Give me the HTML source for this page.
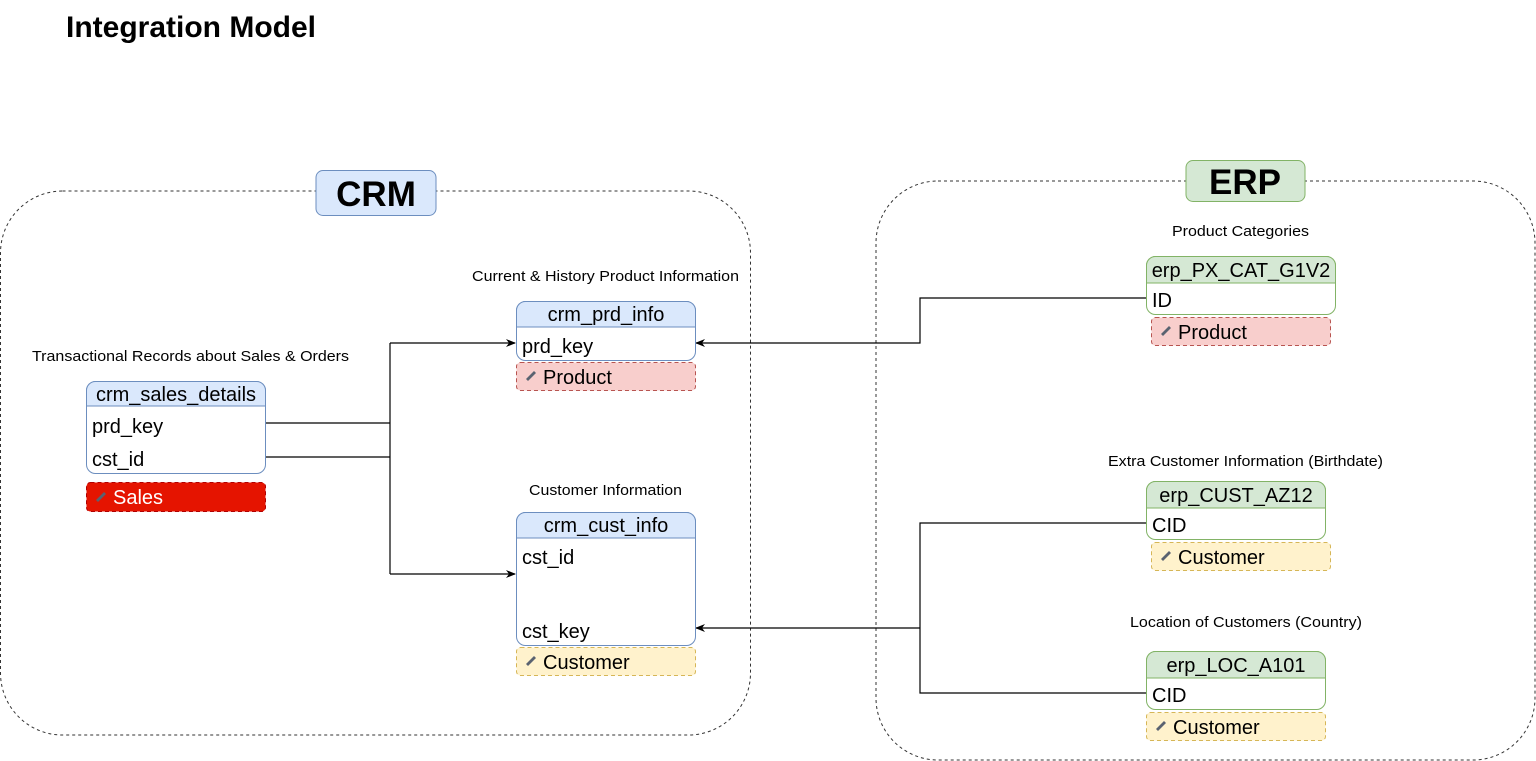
<!DOCTYPE html>
<html><head><meta charset="utf-8"><style>
html,body{margin:0;padding:0;background:#fff;width:1536px;height:761px;overflow:hidden}
svg{display:block;font-family:"Liberation Sans",Arial,sans-serif}
</style></head><body>
<svg width="1536" height="761" viewBox="0 0 1536 761" xmlns="http://www.w3.org/2000/svg">
<defs>
<marker id="ar" viewBox="0 0 10 10" refX="9" refY="5" markerWidth="10" markerHeight="10" orient="auto" markerUnits="userSpaceOnUse"><path d="M0,1 L10,5 L0,9 L3,5 Z" fill="#000"/></marker>
<g id="pen"><path d="M0,10 L8,2 L10,4 L2,12 Z" fill="#5a6270"/></g>
</defs>
<text x="66" y="37" font-size="30" font-weight="bold" textLength="250" lengthAdjust="spacingAndGlyphs">Integration Model</text>

<!-- containers -->
<rect x="0.5" y="191" width="750" height="544" rx="62" fill="none" stroke="#333" stroke-dasharray="3,3"/>
<rect x="876" y="181" width="659" height="579" rx="62" fill="none" stroke="#333" stroke-dasharray="3,3"/>
<rect x="316" y="170.5" width="120" height="45" rx="7" fill="#dae8fc" stroke="#6c8ebf"/>
<text x="376" y="206" font-size="35" font-weight="bold" text-anchor="middle">CRM</text>
<rect x="1186" y="160.5" width="119" height="41" rx="7" fill="#d5e8d4" stroke="#82b366"/>
<text x="1245" y="194" font-size="35" font-weight="bold" text-anchor="middle">ERP</text>

<g font-size="15">
<text x="32" y="361" textLength="317" lengthAdjust="spacingAndGlyphs">Transactional Records about Sales &amp; Orders</text>
<text x="472" y="281" textLength="267" lengthAdjust="spacingAndGlyphs">Current &amp; History Product Information</text>
<text x="529" y="495" textLength="153" lengthAdjust="spacingAndGlyphs">Customer Information</text>
<text x="1172" y="236" textLength="137" lengthAdjust="spacingAndGlyphs">Product Categories</text>
<text x="1108" y="466" textLength="275" lengthAdjust="spacingAndGlyphs">Extra Customer Information (Birthdate)</text>
<text x="1130" y="627" textLength="232" lengthAdjust="spacingAndGlyphs">Location of Customers (Country)</text>
</g>

<!-- connectors -->
<g stroke="#000" stroke-width="1.2" fill="none">
<path d="M265,423 H390 M265,457 H390 M390,343 V574"/>
<path d="M390,343 H515" marker-end="url(#ar)"/>
<path d="M390,574 H515" marker-end="url(#ar)"/>
<path d="M1146,298 H920 V343 H696" marker-end="url(#ar)"/>
<path d="M1146,523 H920 V693 H1146"/>
<path d="M920,628 H696" marker-end="url(#ar)"/>
</g>

<g font-size="20">
<!-- crm_sales_details -->
<rect x="86.5" y="381.5" width="179" height="92" rx="9" fill="#fff" stroke="#6c8ebf"/>
<path d="M86.5,406 V390.5 a9,9 0 0 1 9,-9 H256.5 a9,9 0 0 1 9,9 V406 Z" fill="#dae8fc" stroke="#6c8ebf"/>
<text x="176" y="401" text-anchor="middle">crm_sales_details</text>
<text x="92" y="433">prd_key</text>
<text x="92" y="466">cst_id</text>
<rect x="86.5" y="482.5" width="179" height="29" rx="4" fill="#e51400" stroke="#b20000" stroke-dasharray="4,3"/>
<use href="#pen" x="96" y="490"/>
<text x="113" y="504" fill="#fff">Sales</text>

<!-- crm_prd_info -->
<rect x="516.5" y="301.5" width="179" height="59" rx="9" fill="#fff" stroke="#6c8ebf"/>
<path d="M516.5,327 V310.5 a9,9 0 0 1 9,-9 H686.5 a9,9 0 0 1 9,9 V327 Z" fill="#dae8fc" stroke="#6c8ebf"/>
<text x="606" y="321" text-anchor="middle">crm_prd_info</text>
<text x="522" y="353">prd_key</text>
<rect x="516.5" y="362.5" width="179" height="28" rx="4" fill="#f8cecc" stroke="#b85450" stroke-dasharray="4,3"/>
<use href="#pen" x="526" y="369"/>
<text x="543" y="384">Product</text>

<!-- crm_cust_info -->
<rect x="516.5" y="512.5" width="179" height="133" rx="9" fill="#fff" stroke="#6c8ebf"/>
<path d="M516.5,538 V521.5 a9,9 0 0 1 9,-9 H686.5 a9,9 0 0 1 9,9 V538 Z" fill="#dae8fc" stroke="#6c8ebf"/>
<text x="606" y="532" text-anchor="middle">crm_cust_info</text>
<text x="522" y="564">cst_id</text>
<text x="522" y="638">cst_key</text>
<rect x="516.5" y="647.5" width="179" height="28" rx="4" fill="#fff2cc" stroke="#d6b656" stroke-dasharray="4,3"/>
<use href="#pen" x="526" y="654"/>
<text x="543" y="669">Customer</text>

<!-- erp_PX_CAT_G1V2 -->
<rect x="1146.5" y="256.5" width="189" height="58" rx="9" fill="#fff" stroke="#82b366"/>
<path d="M1146.5,283 V265.5 a9,9 0 0 1 9,-9 H1326.5 a9,9 0 0 1 9,9 V283 Z" fill="#d5e8d4" stroke="#82b366"/>
<text x="1241" y="277" text-anchor="middle">erp_PX_CAT_G1V2</text>
<text x="1152" y="307">ID</text>
<rect x="1151.5" y="317.5" width="179" height="28" rx="4" fill="#f8cecc" stroke="#b85450" stroke-dasharray="4,3"/>
<use href="#pen" x="1161" y="324"/>
<text x="1178" y="339">Product</text>

<!-- erp_CUST_AZ12 -->
<rect x="1146.5" y="481.5" width="179" height="58" rx="9" fill="#fff" stroke="#82b366"/>
<path d="M1146.5,508 V490.5 a9,9 0 0 1 9,-9 H1316.5 a9,9 0 0 1 9,9 V508 Z" fill="#d5e8d4" stroke="#82b366"/>
<text x="1236" y="502" text-anchor="middle">erp_CUST_AZ12</text>
<text x="1152" y="532">CID</text>
<rect x="1151.5" y="542.5" width="179" height="28" rx="4" fill="#fff2cc" stroke="#d6b656" stroke-dasharray="4,3"/>
<use href="#pen" x="1161" y="549"/>
<text x="1178" y="564">Customer</text>

<!-- erp_LOC_A101 -->
<rect x="1146.5" y="651.5" width="179" height="58" rx="9" fill="#fff" stroke="#82b366"/>
<path d="M1146.5,678 V660.5 a9,9 0 0 1 9,-9 H1316.5 a9,9 0 0 1 9,9 V678 Z" fill="#d5e8d4" stroke="#82b366"/>
<text x="1236" y="672" text-anchor="middle">erp_LOC_A101</text>
<text x="1152" y="702">CID</text>
<rect x="1146.5" y="712.5" width="179" height="28" rx="4" fill="#fff2cc" stroke="#d6b656" stroke-dasharray="4,3"/>
<use href="#pen" x="1156" y="719"/>
<text x="1173" y="734">Customer</text>
</g>
</svg>
</body></html>
